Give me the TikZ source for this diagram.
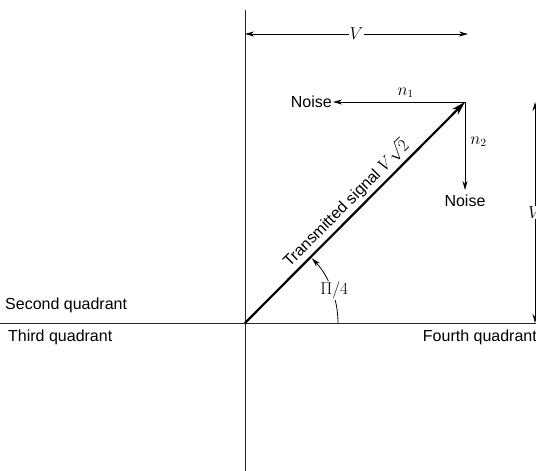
\documentclass[tikz,border=0pt]{standalone}
\usepackage{fontspec}
\setmainfont{Liberation Sans}
\usepackage{tikz}
\usetikzlibrary{arrows.meta,positioning,calc}

\begin{document}
\begin{tikzpicture}[x=1pt, y=1pt,
  axis/.style={line width=0.8pt, black!85},
  lbl/.style={font=\fontsize{16}{18}\selectfont, inner sep=1pt},
  mlbl/.style={font=\fontsize{16}{18}\selectfont, inner sep=1pt, fill=white},
  arr/.style={-{Stealth[length=9pt, width=5pt]}, line width=0.8pt},
  dim/.style={{Stealth[length=9pt, width=5pt]}-{Stealth[length=9pt, width=5pt]}, line width=0.8pt},
  sig/.style={-{Stealth[length=14pt, width=8pt]}, line width=2.2pt}
]
  \useasboundingbox (-245,-148) rectangle (291,323);

  % axes
  \coordinate (O) at (0,0);
  \coordinate (ytop) at (0,313);
  \coordinate (ybot) at (0,-148);
  \coordinate (xleft) at (-245,0);
  \coordinate (xright) at (291,0);
  \draw[axis] (ybot) -- (ytop);
  \draw[axis] (xleft) -- (xright);

  \node[lbl, anchor=west] (q2) at (-241,18) {Second quadrant};
  \node[lbl, anchor=west] (q3) at (-238,-14) {Third quadrant};
  \node[lbl, anchor=east] (q4) at (293,-14) {Fourth quadrant};

  % transmitted signal
  \coordinate (S) at (220,221);
  \draw[sig] (O) -- node[lbl, pos=0.5, above=2pt, sloped] (sigtxt) {Transmitted signal $V\sqrt{2}$} (S);

  % noise components
  \node[lbl, anchor=east] (noise1) at (88,221) {Noise};
  \draw[arr] (S) -- node[lbl, above=3pt, pos=0.45] (n1) {$n_1$} (noise1.east);
  \coordinate (n2tip) at (220,133);
  \draw[arr] (S) -- node[lbl, right=4pt, pos=0.45] (n2) {$n_2$} (n2tip);
  \node[lbl, below=4pt of n2tip] (noise2) {Noise};

  % angle
  \draw[arr] (93,0) arc[start angle=0, end angle=44, radius=93];
  \node[mlbl] (ang) at (20:95) {$\Pi/4$};

  % dimensions
  \coordinate (dl) at (0,289);
  \coordinate (dr) at (223,289);
  \draw[dim] (dl) -- node[mlbl] (vtop) {$V$} (dr);
  \coordinate (rt) at (290,221);
  \coordinate (rb) at (290,0);
  \draw[dim] (rt) -- node[mlbl, pos=0.5] (vright) {$V$} (rb);
\end{tikzpicture}
\end{document}
